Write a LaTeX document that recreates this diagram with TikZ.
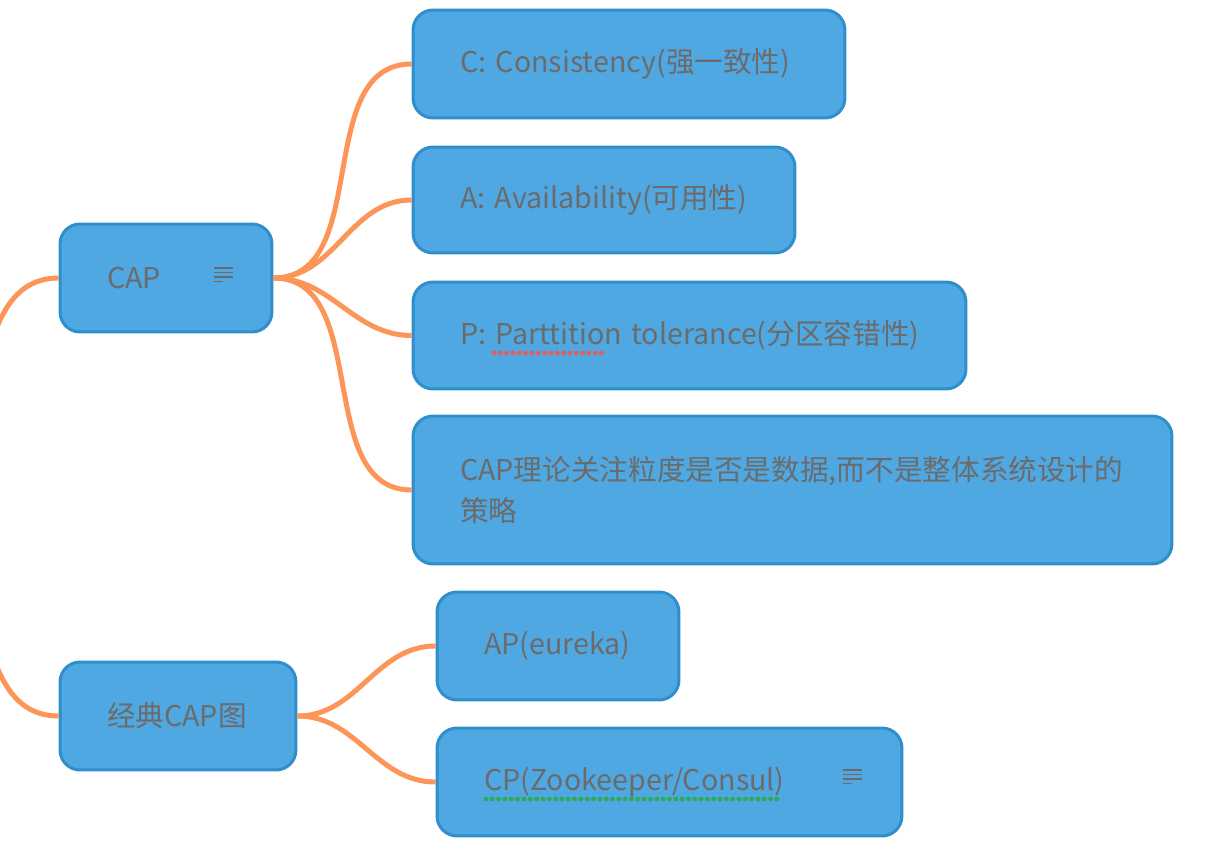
\documentclass[tikz,border=0pt]{standalone}
\usepackage{fontspec}
\setmainfont{Noto Sans CJK SC}

\definecolor{topicfill}{HTML}{50A8E2}
\definecolor{topicline}{HTML}{2E8FCB}
\definecolor{topictext}{HTML}{6B6B6B}
\definecolor{branchline}{HTML}{FD9558}
\definecolor{spellred}{HTML}{E0605A}
\definecolor{spellgreen}{HTML}{2EAA5A}

\tikzset{
  topic/.style={draw=topicline, fill=topicfill, line width=0.06cm, rounded corners=0.4cm,
    text=topictext, font=\fontsize{16.3pt}{23pt}\selectfont, align=left,
    inner xsep=0.94cm, inner ysep=0pt, minimum height=2.16cm},
  branch/.style={draw=branchline, line width=0.1cm},
  spell/.style={line width=0.1cm, line cap=round, dash pattern=on 0pt off 3.6pt},
}

% small "notes" glyph shown beside a topic
\newcommand\notesicon[1]{%
  \begin{scope}[shift={#1}]
    \draw[topictext, line width=0.035cm] (0,0) -- (19,0) (0,4.5) -- (19,4.5) (0,9) -- (19,9) (0,13.5) -- (9,13.5);
  \end{scope}}

\begin{document}
\begin{tikzpicture}[x=0.02cm, y=-0.02cm]
  \useasboundingbox (0,0) rectangle (1214,852);
  \clip (0,0) rectangle (1214,852);

  \node[topic, text width=2.36cm] (cap) at (166,278) {CAP};
  \node[topic, text width=2.84cm] (classic) at (178,716) {经典CAP图};

  \node[topic, text width=6.76cm] (cons) at (629,64) {\mbox{C: Consistency(强一致性)}};
  \node[topic, text width=5.76cm, minimum height=2.12cm] (avail) at (604,200) {\mbox{A: Availability(可用性)}};
  \node[topic, text width=9.18cm, minimum height=2.14cm] (part) at (689.5,335.5) {\mbox{P: Parttition tolerance(分区容错性)}};
  \node[topic, text width=13.3cm, minimum height=2.96cm] (theory) at (792.5,490)
    {CAP理论关注粒度是否是数据,而不是整体系统设计的\\策略};

  \node[topic, text width=2.96cm] (ap) at (558,646) {AP(eureka)};
  \node[topic, text width=7.42cm] (cp) at (669.5,782) {\mbox{CP(Zookeeper/Consul)}};

  \notesicon{(214,268)}
  \notesicon{(843,770)}

  \draw[spell, spellred] (494,353) -- (603,353);
  \draw[spell, spellgreen] (486,799) -- (782,799);

  \coordinate (root) at (-100,497);
  \draw[branch] (root) to[out=0, in=180] (cap.west);
  \draw[branch] (root) to[out=0, in=180] (classic.west);

  \draw[branch] (cap.east) to[out=0, in=180] (cons.west);
  \draw[branch] (cap.east) to[out=0, in=180] (avail.west);
  \draw[branch] (cap.east) to[out=0, in=180] (part.west);
  \draw[branch] (cap.east) to[out=0, in=180] (theory.west);

  \draw[branch] (classic.east) to[out=0, in=180] (ap.west);
  \draw[branch] (classic.east) to[out=0, in=180] (cp.west);
\end{tikzpicture}
\end{document}
